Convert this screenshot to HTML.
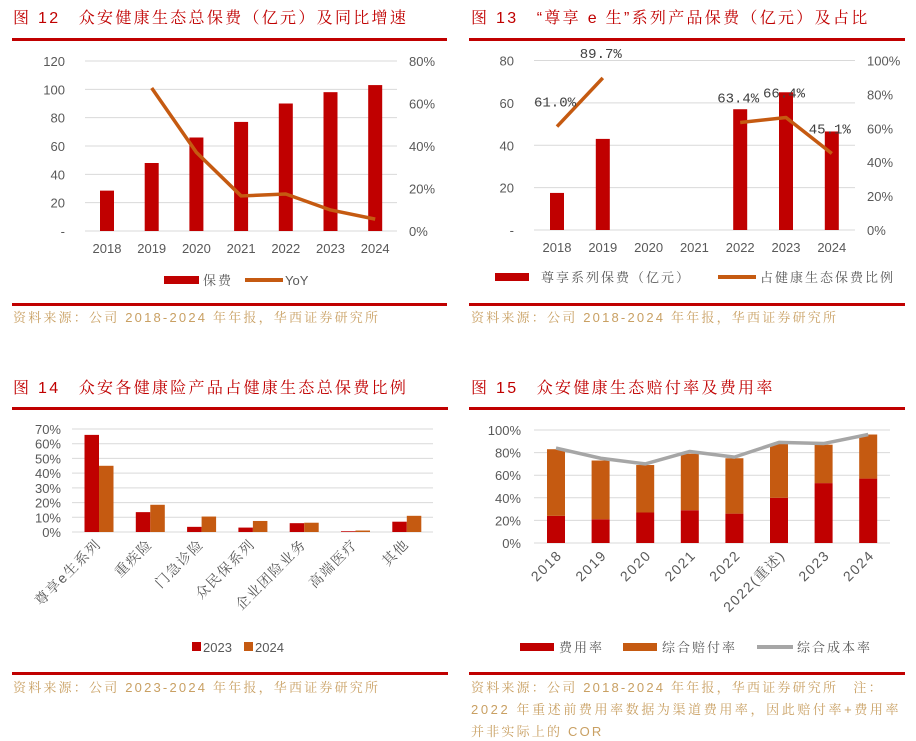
<!DOCTYPE html>
<html><head><meta charset="utf-8">
<style>
html,body{margin:0;padding:0;background:#fff;}
svg{display:block;}
.ttl{font-family:"Liberation Sans","Noto Serif CJK SC",serif;font-size:16px;fill:#c00000;letter-spacing:2.3px;}
.src{font-family:"Liberation Sans","Noto Serif CJK SC",serif;font-size:13px;fill:#c9a063;letter-spacing:2.2px;}
.tk{font-family:"Liberation Sans","Noto Sans CJK SC",sans-serif;font-size:13px;fill:#595959;}
.cat{font-family:"Liberation Sans","Noto Serif CJK SC",serif;font-size:14px;fill:#595959;letter-spacing:1.5px;}
.lg{font-family:"Liberation Sans","Noto Serif CJK SC",serif;font-size:13px;fill:#595959;letter-spacing:2px;}
.lgn{font-family:"Liberation Sans","Noto Serif CJK SC",serif;font-size:13px;fill:#595959;}
.dl{font-family:"Liberation Mono","Noto Sans CJK SC",monospace;font-size:14px;fill:#404040;}
</style></head>
<body>
<svg id="s" width="916" height="741" xmlns="http://www.w3.org/2000/svg">
<text class="ttl" x="13" y="23">图 12　众安健康生态总保费（亿元）及同比增速</text>
<rect x="12" y="38" width="435" height="3" fill="#c00000"/>
<rect x="12" y="303" width="435" height="3" fill="#c00000"/>
<text class="src" x="13" y="322">资料来源：公司 2018-2024 年年报，华西证券研究所</text>

<text class="ttl" x="471" y="23">图 13　“尊享 e 生”系列产品保费（亿元）及占比</text>
<rect x="469" y="38" width="436" height="3" fill="#c00000"/>
<rect x="469" y="303" width="436" height="3" fill="#c00000"/>
<text class="src" x="471" y="322">资料来源：公司 2018-2024 年年报，华西证券研究所</text>

<text class="ttl" x="13" y="393">图 14　众安各健康险产品占健康生态总保费比例</text>
<rect x="12" y="407" width="436" height="3" fill="#c00000"/>
<rect x="12" y="672" width="436" height="3" fill="#c00000"/>
<text class="src" x="13" y="692">资料来源：公司 2023-2024 年年报，华西证券研究所</text>

<text class="ttl" x="471" y="393">图 15　众安健康生态赔付率及费用率</text>
<rect x="469" y="407" width="436" height="3" fill="#c00000"/>
<rect x="469" y="672" width="436" height="3" fill="#c00000"/>
<text class="src" x="471" y="692">资料来源：公司 2018-2024 年年报，华西证券研究所　注：</text>
<text class="src" x="471" y="714" style="letter-spacing:2.6px">2022 年重述前费用率数据为渠道费用率，因此赔付率+费用率</text>
<text class="src" x="471" y="736">并非实际上的 COR</text>
<g id="g"></g>
</svg>
<script>
// ---- Fig 12 data
const c12Years = ['2018','2019','2020','2021','2022','2023','2024'];
const c12Premium = [28.5, 48, 66, 77, 90, 98, 103];
const c12Yoy = [null, 67.3, 37, 16.5, 17.4, 9.9, 5.6];
const c12LeftTicks = [0,20,40,60,80,100,120];
const c12RightTicks = [0,20,40,60,80];
// ---- Fig 13 data
const c13Years = ['2018','2019','2020','2021','2022','2023','2024'];
const c13Premium = [17.5, 43, 0, 0, 57, 65, 46.5];
const c13Share = [61.0, 89.7, null, null, 63.4, 66.4, 45.1];
const c13LeftTicks = [0,20,40,60,80];
const c13RightTicks = [0,20,40,60,80,100];
// ---- Fig 14 data
const c14Cats = ['尊享e生系列','重疾险','门急诊险','众民保系列','企业团险业务','高端医疗','其他'];
const c14V2023 = [66, 13.5, 3.5, 3, 6, 0.5, 7];
const c14V2024 = [45, 18.5, 10.5, 7.5, 6.3, 1, 11];
const c14Ticks = [0,10,20,30,40,50,60,70];
// ---- Fig 15 data
const c15Cats = ['2018','2019','2020','2021','2022','2022(重述)','2023','2024'];
const c15Expense = [24, 21, 27, 29, 26, 40, 53, 57];
const c15Loss = [59, 52, 42, 50, 49, 48, 34, 39];
const c15Cor = [84, 75, 70, 81, 76, 89, 88, 96];
const c15Ticks = [0,20,40,60,80,100];

const NS='http://www.w3.org/2000/svg';
const G=document.getElementById('g');
function mk(tag,attrs,txt){const e=document.createElementNS(NS,tag);for(const k in attrs)e.setAttribute(k,attrs[k]);if(txt!=null)e.textContent=txt;G.appendChild(e);return e;}
const RED='#c00000', ORG='#c55a11', GRID='#d9d9d9', GRAY='#a6a6a6';

// ===== Fig 12
(function(){
  const x0=85,x1=397,yTop=61,yBot=231;
  const yL=v=>yBot-(v/120)*(yBot-yTop);
  const yR=v=>yBot-(v/80)*(yBot-yTop);
  const xc=i=>107+i*44.7;
  c12LeftTicks.forEach(t=>{
    let g=mk('line',{x1:x0,x2:x1,y1:yL(t),y2:yL(t),stroke:GRID,'stroke-width':1});
    
    let l=mk('text',{class:'tk',x:65,y:yL(t)+5,'text-anchor':'end'},t===0?'-':String(t));
    
  });
  c12RightTicks.forEach(t=>{
    let l=mk('text',{class:'tk',x:409,y:yR(t)+5},t+'%');
    
  });
  c12Premium.forEach((v,i)=>{
    let b=mk('rect',{x:xc(i)-7,y:yL(v),width:14,height:yBot-yL(v),fill:RED});
    
    let l=mk('text',{class:'tk',x:xc(i),y:253,'text-anchor':'middle'},c12Years[i]);
    
  });
  let pts=[];c12Yoy.forEach((v,i)=>{if(v!=null)pts.push(xc(i)+','+yR(v));});
  let p=mk('polyline',{points:pts.join(' '),fill:'none',stroke:ORG,'stroke-width':3.5,'stroke-linejoin':'round'});
  
  let s1=mk('rect',{x:164,y:276,width:35,height:8,fill:RED});
  
  let t1=mk('text',{class:'lg',x:203,y:285},'保费');
  
  let s2=mk('line',{x1:245,x2:283,y1:280,y2:280,stroke:ORG,'stroke-width':4});
  
  let t2=mk('text',{class:'lgn',x:285,y:285},'YoY');
  
})();

// ===== Fig 13
(function(){
  const x0=534,x1=855,yTop=60.5,yBot=230;
  const yL=v=>yBot-(v/80)*(yBot-yTop);
  const yR=v=>yBot-(v/100)*(yBot-yTop);
  const xc=i=>557+i*45.8;
  c13LeftTicks.forEach(t=>{
    let g=mk('line',{x1:x0,x2:x1,y1:yL(t),y2:yL(t),stroke:GRID,'stroke-width':1});
    
    let l=mk('text',{class:'tk',x:514,y:yL(t)+5,'text-anchor':'end'},t===0?'-':String(t));
    
  });
  c13RightTicks.forEach(t=>{
    let l=mk('text',{class:'tk',x:867,y:yR(t)+5},t+'%');
    
  });
  c13Premium.forEach((v,i)=>{
    if(v>0){let b=mk('rect',{x:xc(i)-7,y:yL(v),width:14,height:yBot-yL(v),fill:RED});
    }
    let l=mk('text',{class:'tk',x:xc(i),y:252,'text-anchor':'middle'},c13Years[i]);
    
  });
  let seg=[];const segs=[];
  c13Share.forEach((v,i)=>{if(v==null){if(seg.length)segs.push(seg);seg=[];}else seg.push(xc(i)+','+yR(v));});
  if(seg.length)segs.push(seg);
  segs.forEach(sg=>{let p=mk('polyline',{points:sg.join(' '),fill:'none',stroke:ORG,'stroke-width':3.5,'stroke-linejoin':'round'});
    });
  c13Share.forEach((v,i)=>{if(v==null)return;
    let l=mk('text',{class:'dl',x:xc(i)-2,y:yR(v)-20,'text-anchor':'middle'},v.toFixed(1)+'%');
    });
  let s1=mk('rect',{x:495,y:273,width:34,height:8,fill:RED});
  
  let t1=mk('text',{class:'lg',x:541,y:282},'尊享系列保费（亿元）');
  
  let s2=mk('line',{x1:718,x2:756,y1:277,y2:277,stroke:ORG,'stroke-width':4});
  
  let t2=mk('text',{class:'lg',x:760,y:282},'占健康生态保费比例');
  
})();

// ===== Fig 14
(function(){
  const x0=72,x1=433,yTop=429,yBot=532;
  const y=v=>yBot-(v/70)*(yBot-yTop);
  const xc=i=>99+i*51.3;
  c14Ticks.forEach(t=>{
    let g=mk('line',{x1:x0,x2:x1,y1:y(t),y2:y(t),stroke:GRID,'stroke-width':1});
    
    let l=mk('text',{class:'tk',x:61,y:y(t)+5,'text-anchor':'end'},t+'%');
    
  });
  c14Cats.forEach((c,i)=>{
    let a=mk('rect',{x:xc(i)-14.5,y:y(c14V2023[i]),width:14.5,height:yBot-y(c14V2023[i]),fill:RED});
    
    let b=mk('rect',{x:xc(i),y:y(c14V2024[i]),width:14.5,height:yBot-y(c14V2024[i]),fill:ORG});
    
    let l=mk('text',{class:'cat',x:xc(i)+3,y:545,'text-anchor':'end',transform:`rotate(-45 ${xc(i)+3} 545)`},c);
    
  });
  let s1=mk('rect',{x:192,y:642,width:9,height:9,fill:RED});
  
  let t1=mk('text',{class:'tk',x:203,y:652},'2023');
  
  let s2=mk('rect',{x:244,y:642,width:9,height:9,fill:ORG});
  
  let t2=mk('text',{class:'tk',x:255,y:652},'2024');
  
})();

// ===== Fig 15
(function(){
  const x0=534,x1=890,yTop=430,yBot=543;
  const y=v=>yBot-(v/100)*(yBot-yTop);
  const xc=i=>556+i*44.6;
  c15Ticks.forEach(t=>{
    let g=mk('line',{x1:x0,x2:x1,y1:y(t),y2:y(t),stroke:GRID,'stroke-width':1});
    
    let l=mk('text',{class:'tk',x:521,y:y(t)+5,'text-anchor':'end'},t+'%');
    
  });
  c15Cats.forEach((c,i)=>{
    let a=mk('rect',{x:xc(i)-9,y:y(c15Expense[i]),width:18,height:yBot-y(c15Expense[i]),fill:RED});
    
    let top=c15Expense[i]+c15Loss[i];
    let b=mk('rect',{x:xc(i)-9,y:y(top),width:18,height:y(c15Expense[i])-y(top),fill:ORG});
    
    let l=mk('text',{class:'cat',x:xc(i)+7,y:556,'text-anchor':'end',transform:`rotate(-45 ${xc(i)+7} 556)`},c);
    
  });
  let p=mk('polyline',{points:c15Cor.map((v,i)=>xc(i)+','+y(v)).join(' '),fill:'none',stroke:GRAY,'stroke-width':3.5,'stroke-linejoin':'round'});
  
  let s1=mk('rect',{x:520,y:643,width:34,height:8,fill:RED});
  
  let t1=mk('text',{class:'lg',x:559,y:652},'费用率');
  
  let s2=mk('rect',{x:623,y:643,width:34,height:8,fill:ORG});
  
  let t2=mk('text',{class:'lg',x:662,y:652},'综合赔付率');
  
  let s3=mk('line',{x1:757,x2:793,y1:647,y2:647,stroke:GRAY,'stroke-width':4});
  
  let t3=mk('text',{class:'lg',x:797,y:652},'综合成本率');
  
})();
</script>
</body></html>
